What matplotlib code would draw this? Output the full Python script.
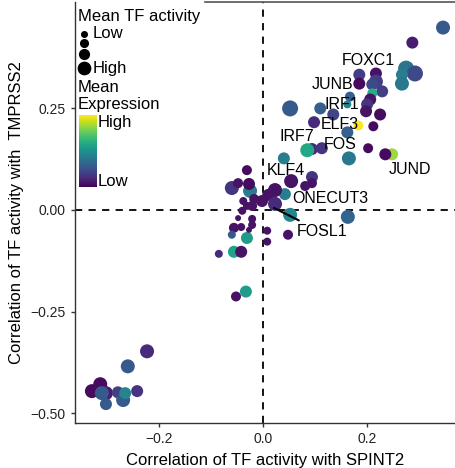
import numpy as np
import matplotlib.pyplot as plt
from matplotlib.lines import Line2D

plt.rcParams['font.family'] = ['Liberation Sans', 'DejaVu Sans']

# correlation with SPINT2 (x), with TMPRSS2 (y), mean expression (0-1), mean TF activity (0-1)
corr_spint2 = [0.346, 0.287, 0.275, 0.292, 0.267, 0.267, 0.185, 0.217, 0.185, 0.217,
               0.210, 0.229, 0.210, 0.206, 0.200, 0.225, 0.167, 0.162, 0.052, 0.110,
               0.135, 0.098, 0.198, 0.183, 0.212, 0.162, 0.202, 0.094, 0.085, 0.113,
               0.165, 0.040, 0.248, 0.235,
               -0.031, -0.060, -0.048, -0.025, -0.027, 0.054, 0.094, 0.081, 0.094, 0.042,
               0.023, 0.010, -0.002, 0.023, -0.017, -0.021, -0.038, -0.040, 0.052, 0.163,
               -0.031, -0.048, -0.021, -0.021, -0.056, -0.042, -0.060, -0.031, -0.027, 0.008,
               0.008, 0.048, -0.085, -0.056, -0.042, -0.033, -0.052,
               -0.223, -0.260, -0.313, -0.329, -0.302, -0.310, -0.279, -0.242, -0.269, -0.265,
               -0.302]
corr_tmprss2 = [0.449, 0.412, 0.348, 0.336, 0.333, 0.311, 0.333, 0.336, 0.311, 0.316,
                0.309, 0.292, 0.287, 0.272, 0.260, 0.235, 0.279, 0.260, 0.250, 0.250,
                0.235, 0.216, 0.243, 0.208, 0.206, 0.191, 0.152, 0.150, 0.147, 0.152,
                0.127, 0.127, 0.137, 0.137,
                0.098, 0.054, 0.066, 0.047, 0.064, 0.071, 0.081, 0.059, 0.066, 0.039,
                0.049, 0.037, 0.022, 0.015, 0.027, 0.010, 0.022, -0.002, -0.012, -0.017,
                0.010, -0.020, -0.022, -0.037, -0.044, -0.042, -0.061, -0.069, -0.049, -0.051,
                -0.078, -0.061, -0.108, -0.103, -0.103, -0.201, -0.213,
                -0.348, -0.385, -0.429, -0.446, -0.451, -0.451, -0.449, -0.446, -0.468, -0.451,
                -0.478]
mean_expr = [0.28, 0.08, 0.38, 0.22, 0.42, 0.40, 0.18, 0.05, 0.03, 0.18,
             0.22, 0.18, 0.62, 0.05, 0.15, 0.03, 0.30, 0.45, 0.28, 0.30,
             0.20, 0.12, 0.05, 1.00, 0.03, 0.30, 0.03, 0.12, 0.60, 0.15,
             0.40, 0.42, 0.85, 0.03,
             0.03, 0.15, 0.05, 0.42, 0.03, 0.05, 0.15, 0.05, 0.05, 0.42,
             0.05, 0.05, 0.05, 0.12, 0.05, 0.05, 0.05, 0.05, 0.45, 0.32,
             0.05, 0.05, 0.05, 0.05, 0.05, 0.05, 0.28, 0.55, 0.05, 0.05,
             0.05, 0.05, 0.12, 0.58, 0.05, 0.55, 0.05,
             0.12, 0.28, 0.03, 0.03, 0.08, 0.28, 0.18, 0.15, 0.28, 0.45,
             0.28]
mean_act = [0.8, 0.6, 1.0, 1.0, 0.6, 0.8, 0.6, 0.6, 0.6, 0.8,
            0.6, 0.6, 0.4, 0.6, 0.6, 0.6, 0.4, 0.2, 1.0, 0.6,
            0.6, 0.6, 0.6, 0.4, 0.4, 0.6, 0.4, 0.6, 0.8, 0.6,
            0.8, 0.6, 0.6, 0.6,
            0.4, 0.8, 0.4, 0.8, 0.6, 0.8, 0.6, 0.4, 0.4, 0.6,
            0.8, 0.6, 0.6, 0.8, 0.4, 0.4, 0.2, 0.2, 0.8, 0.8,
            0.2, 0.0, 0.2, 0.2, 0.4, 0.2, 0.2, 0.6, 0.0, 0.2,
            0.2, 0.4, 0.2, 0.6, 0.6, 0.6, 0.4,
            0.8, 0.8, 0.8, 0.8, 0.8, 0.8, 0.6, 0.6, 0.8, 0.6,
            0.6]

labels = ['FOXC1', 'JUNB', 'IRF1', 'ELF3', 'IRF7', 'FOS', 'JUND', 'KLF4', 'ONECUT3', 'FOSL1']
label_x = [0.202, 0.133, 0.152, 0.148, 0.065, 0.148, 0.283, 0.044, 0.129, 0.113]
label_y = [0.368, 0.309, 0.260, 0.211, 0.181, 0.162, 0.100, 0.096, 0.027, -0.054]
fosl1_point = (0.021, 0.005)

W, H = 455, 468
fig = plt.figure(figsize=(W / 100, H / 100), dpi=100)
ax = fig.add_axes([75 / W, 45 / H, 380 / W, 421 / H])

def marker_size(a):
    r = 3 + 5 * np.asarray(a)
    return (1.44 * r) ** 2

ax.axhline(0, color='black', lw=1.3, ls=(0, (4, 3.5)), zorder=1)
ax.axvline(0, color='black', lw=1.3, ls=(0, (4, 3.5)), zorder=1)

ax.scatter(corr_spint2, corr_tmprss2, c=mean_expr, cmap='viridis', vmin=0, vmax=1,
           s=marker_size(mean_act), linewidths=0, zorder=2)

for i, lab in enumerate(labels):
    if lab == 'FOSL1':
        ax.annotate(lab, xy=fosl1_point, xytext=(label_x[i], label_y[i]), fontsize=11.5,
                    ha='center', va='center', zorder=3,
                    arrowprops=dict(arrowstyle='-', color='black', lw=1.5, shrinkA=2, shrinkB=0))
    else:
        ax.text(label_x[i], label_y[i], lab, fontsize=11.5, ha='center', va='center', zorder=3)

ax.set_xlim(-0.3615, 0.369)
ax.set_ylim(-0.5245, 0.512)
ax.set_xticks([-0.2, 0.0, 0.2])
ax.set_xticklabels(['\u22120.2', '0.0', '0.2'])
ax.set_yticks([-0.5, -0.25, 0.0, 0.25])
ax.set_yticklabels(['\u22120.50', '\u22120.25', '0.00', '0.25'])
ax.tick_params(labelsize=10, length=3, width=1, colors='#333333', labelcolor='#222222')
for side in ['top', 'right']:
    ax.spines[side].set_visible(False)
for side in ['left', 'bottom']:
    ax.spines[side].set_color('#333333')
    ax.spines[side].set_linewidth(1)
ax.set_xlabel('Correlation of TF activity with SPINT2', fontsize=12, labelpad=5)
ax.set_ylabel('Correlation of TF activity with  TMPRSS2', fontsize=12, labelpad=5)

# legend drawn by hand (pixel positions in the figure)
def fx(px):
    return px / W

def fy(py):
    return 1 - py / H

fig.text(fx(78), fy(17), 'Mean TF activity', fontsize=12, va='center')
for py, a in zip([34, 43, 54, 68], [0.0, 0.25, 0.5, 0.8]):
    fig.add_artist(Line2D([fx(84)], [fy(py)], marker='o', color='black', linestyle='none',
                          markersize=2 * (2.8 + 4.2 * a) * 0.72))
fig.text(fx(93), fy(34), 'Low', fontsize=12, va='center')
fig.text(fx(93), fy(68), 'High', fontsize=12, va='center')
fig.text(fx(78), fy(87), 'Mean', fontsize=12, va='center')
fig.text(fx(78), fy(104), 'Expression', fontsize=12, va='center')
cax = fig.add_axes([fx(79), fy(187), 18 / W, 72 / H])
cax.imshow(np.linspace(1, 0, 100).reshape(-1, 1), cmap='viridis', aspect='auto')
cax.axis('off')
fig.text(fx(98), fy(122), 'High', fontsize=12, va='center')
fig.text(fx(98), fy(181), 'Low', fontsize=12, va='center')

fig.add_artist(Line2D([fx(205), 1], [fy(2), fy(2)], color='#555555', lw=1.2))

fig.savefig('out.png', dpi=100)
